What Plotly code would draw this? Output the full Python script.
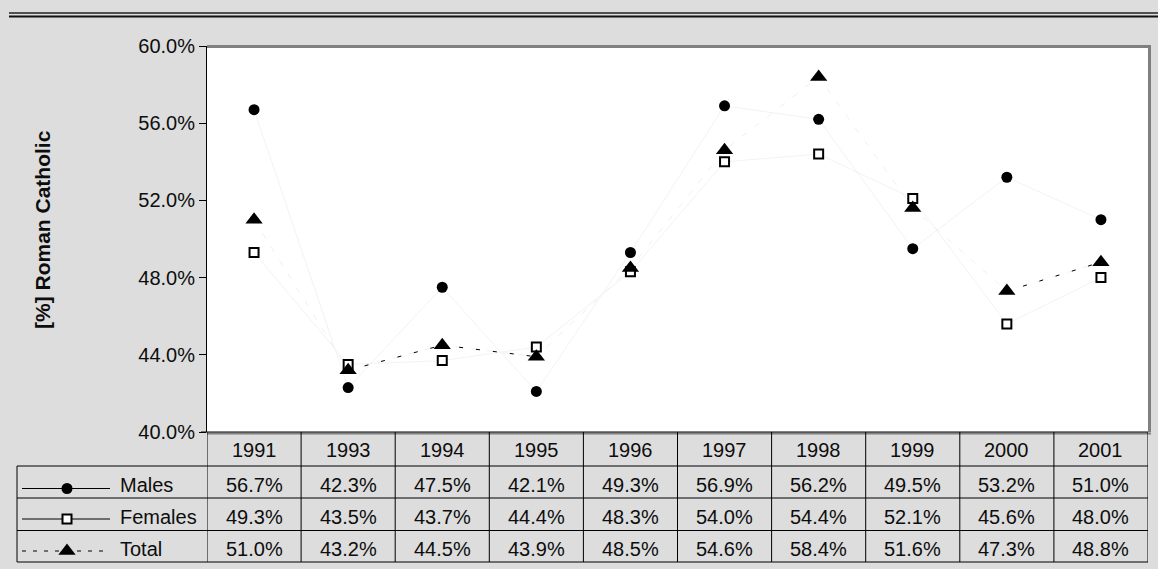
import plotly.graph_objects as go

# ---- data ----
years = ["1991", "1993", "1994", "1995", "1996", "1997", "1998", "1999", "2000", "2001"]
males = [56.7, 42.3, 47.5, 42.1, 49.3, 56.9, 56.2, 49.5, 53.2, 51.0]
females = [49.3, 43.5, 43.7, 44.4, 48.3, 54.0, 54.4, 52.1, 45.6, 48.0]
total = [51.0, 43.2, 44.5, 43.9, 48.5, 54.6, 58.4, 51.6, 47.3, 48.8]
series_names = ["Males", "Females", "Total"]
y_ticks = [40, 44, 48, 52, 56, 60]
y_title = "[%] Roman Catholic"

# ---- page geometry (pixels) ----
W, H = 1158, 569
PL, PR, PT, PB = 207, 1148, 46, 432          # plot area
TABLE_LEFT = 17
ROW_LINES = [466, 498, 530.5, 562]             # horizontal rules of the data table
HEADER_Y = 449.5
ROW_Y = [484.5, 516.5, 549]
KEY_Y = [488.5, 519, 551]
FONT = "Liberation Sans, Arial, sans-serif"
INK = "#0d0d0d"
BG = "#dddddd"
FRAME = "#808080"
FS = 20

fig = go.Figure()

# very faint connecting lines
fig.add_trace(go.Scatter(x=years, y=males, mode="lines",
                         line=dict(color="#f3f3f3", width=1), hoverinfo="skip"))
fig.add_trace(go.Scatter(x=years, y=females, mode="lines",
                         line=dict(color="#f3f3f3", width=1), hoverinfo="skip"))
fig.add_trace(go.Scatter(x=years, y=total, mode="lines",
                         line=dict(color="#f0f0f0", width=1, dash="6px,10px"), hoverinfo="skip"))

# near-flat stretches of the Total line show up as dark dashes
flat_x, flat_y = [], []
for i in range(len(total) - 1):
    if abs(total[i + 1] - total[i]) <= 1.5:
        flat_x += [years[i], years[i + 1], None]
        flat_y += [total[i], total[i + 1], None]
fig.add_trace(go.Scatter(x=flat_x, y=flat_y, mode="lines", connectgaps=False,
                         line=dict(color="#000000", width=1, dash="4px,13px"), hoverinfo="skip"))

# markers
marker_styles = [
    dict(symbol="circle", size=11, color="#000000", line=dict(width=0)),
    dict(symbol="square", size=9, color="#ffffff", line=dict(color="#000000", width=2)),
    dict(symbol="triangle-up", size=15, color="#000000", line=dict(width=0)),
]
for name, vals, ms in zip(series_names, [males, females, total], marker_styles):
    fig.add_trace(go.Scatter(x=years, y=vals, mode="markers", name=name, marker=ms))

# legend keys inside the data table (pixel overlay axes)
key_lines = [dict(color="#000000", width=1), dict(color="#000000", width=1),
             dict(color="#000000", width=1, dash="4px,7px")]
for ky, ms, ln in zip(KEY_Y, marker_styles, key_lines):
    fig.add_trace(go.Scatter(x=[22, 110], y=[ky, ky], mode="lines", line=ln,
                             xaxis="x2", yaxis="y2", hoverinfo="skip"))
    fig.add_trace(go.Scatter(x=[67], y=[ky], mode="markers", marker=ms,
                             xaxis="x2", yaxis="y2", hoverinfo="skip"))

shapes = []
def pline(x0, y0, x1, y1, color="#000000", width=1, layer="above"):
    shapes.append(dict(type="line", xref="x2", yref="y2", x0=x0, y0=y0, x1=x1, y1=y1,
                       line=dict(color=color, width=width), layer=layer))

# white plotting area (paper layer, beneath every subplot) and its grey frame
shapes.append(dict(type="rect", xref="paper", yref="paper",
                   x0=PL / W, x1=PR / W, y0=(H - PB) / H, y1=(H - PT) / H,
                   fillcolor="#ffffff", line=dict(width=0), layer="below"))
pline(PL, PT + 0.5, PR + 3, PT + 0.5, FRAME, 3)
pline(PR + 1.5, PT - 1, PR + 1.5, PB, FRAME, 3)
pline(PL, PB + 1.5, PR + 3, PB + 1.5, FRAME, 2)
pline(PL - 6, PB, PR, PB, "#000000", 1)

# double rule at the top of the page
pline(9, 13, W, 13, "#222222", 1.6)
pline(9, 16.5, W, 16.5, "#111111", 2)

# data table rules
for ry in ROW_LINES:
    pline(TABLE_LEFT, ry, PR, ry)
pline(TABLE_LEFT, ROW_LINES[0], TABLE_LEFT, ROW_LINES[-1])
for k in range(len(years) + 1):
    shapes.append(dict(type="line", xref="x", yref="y2", x0=k - 0.5, x1=k - 0.5,
                       y0=PB, y1=ROW_LINES[-1], line=dict(color="#000000", width=1)))

annotations = []
txt = dict(family=FONT, size=FS, color=INK)
for i, yr in enumerate(years):
    annotations.append(dict(x=i, y=HEADER_Y, xref="x", yref="y2", text=yr, showarrow=False,
                            xanchor="center", yanchor="middle", font=txt))
for ry, name, vals in zip(ROW_Y, series_names, [males, females, total]):
    annotations.append(dict(x=118, y=ry, xref="x2", yref="y2", text=name, showarrow=False,
                            xanchor="left", yanchor="middle", font=txt))
    for i, v in enumerate(vals):
        annotations.append(dict(x=i, y=ry, xref="x", yref="y2", text=f"{v:.1f}%",
                                showarrow=False, xanchor="center", yanchor="middle", font=txt))
annotations.append(dict(x=42, y=230, xref="x2", yref="y2", text=f"<b>{y_title}</b>",
                        textangle=-90, showarrow=False, xanchor="center", yanchor="middle",
                        font=dict(family=FONT, size=21, color=INK)))

fig.update_layout(
    width=W, height=H, autosize=False,
    margin=dict(l=0, r=0, t=0, b=0, pad=0),
    paper_bgcolor=BG, plot_bgcolor="rgba(0,0,0,0)",
    showlegend=False, template="none",
    shapes=shapes, annotations=annotations,
    xaxis=dict(domain=[PL / W, PR / W], type="category", range=[-0.5, len(years) - 0.5],
               showticklabels=False, showgrid=False, zeroline=False, showline=False, ticks=""),
    yaxis=dict(domain=[(H - PB) / H, (H - PT) / H], range=[y_ticks[0], y_ticks[-1]],
               tickvals=y_ticks, ticktext=[f"{v:.1f}%" for v in y_ticks],
               ticks="outside", ticklen=7, tickcolor="#000000", tickwidth=1,
               showline=True, linecolor="#000000", linewidth=1,
               showgrid=False, zeroline=False,
               tickfont=dict(family=FONT, size=FS, color=INK)),
    xaxis2=dict(domain=[0, 1], range=[0, W], visible=False, fixedrange=True),
    yaxis2=dict(domain=[0, 1], range=[H, 0], visible=False, fixedrange=True),
)

fig.write_html("out.html")
